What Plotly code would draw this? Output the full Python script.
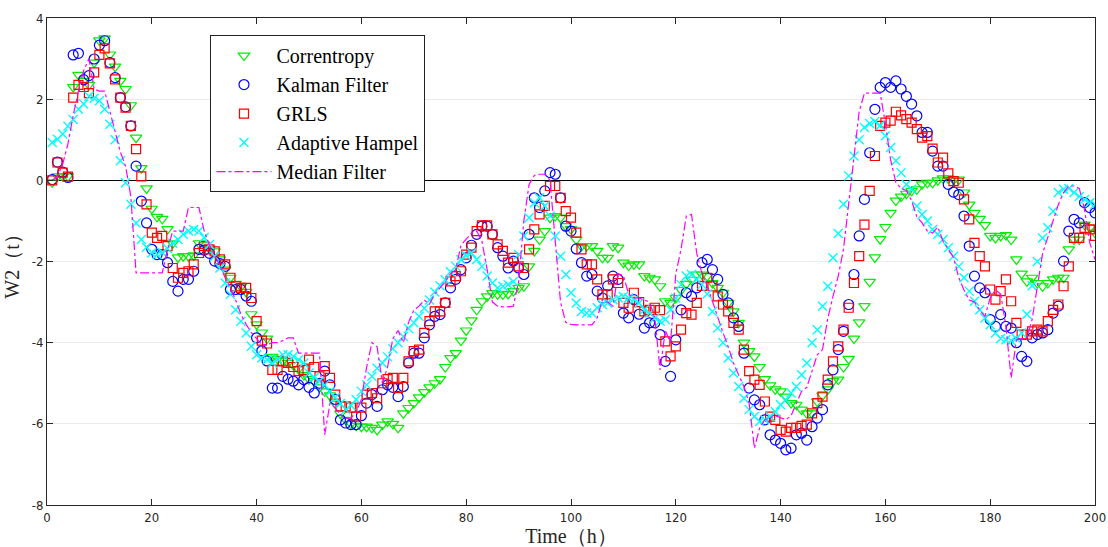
import plotly.graph_objects as go

t = list(range(1, 201))

correntropy = [
    -0.05, 0.1, 0.1, 0.1, 2.3, 2.6, 2.45, 2.35, 2.9, 3.45,
    3.5, 3.1, 2.8, 2.45, 2.25, 1.85, 1.05, 0.3, -0.2, -0.7,
    -0.9, -0.95, -1.2, -1.55, -1.9, -1.87, -1.87, -1.85, -1.55, -1.6,
    -1.68, -1.75, -1.95, -2.2, -2.4, -2.55, -2.62, -2.75, -3.3, -3.55,
    -3.75, -3.9, -4.35, -4.4, -4.45, -4.5, -4.55, -4.65, -4.8, -4.9,
    -4.95, -5.1, -5.2, -5.3, -5.5, -5.75, -5.9, -6.0, -6.05, -6.07,
    -6.07, -6.1, -6.15, -6.02, -5.94, -6.0, -6.1, -5.74, -5.61, -5.49,
    -5.35, -5.22, -5.1, -5.0, -4.9, -4.6, -4.38, -4.26, -3.95, -3.7,
    -3.45, -3.19, -2.98, -2.86, -2.78, -2.81, -2.81, -2.8, -2.73, -2.65,
    -2.61, -2.12, -1.74, -1.46, -1.25, -0.92, -0.88, -0.92, -1.13, -1.2,
    -1.46, -1.62, -1.62, -1.62, -1.74, -1.91, -1.91, -1.62, -1.66, -2.03,
    -2.1, -2.07, -2.07, -2.36, -2.4, -2.44, -2.61, -2.98, -3.02, -2.9,
    -2.7, -2.55, -2.45, -2.32, -2.32, -2.36, -2.53, -2.65, -2.77, -3.02,
    -3.23, -3.51, -4.0, -4.21, -4.34, -4.6, -4.9, -5.05, -5.15, -5.2,
    -5.33, -5.49, -5.53, -5.65, -5.74, -5.74, -5.45, -5.3, -5.15, -4.95,
    -4.91, -4.6, -4.4, -3.9, -3.5, -3.1, -2.5, -1.9, -1.45, -1.15,
    -0.8, -0.5, -0.4, -0.33, -0.26, -0.22, -0.1, -0.06, -0.06, 0.0,
    0.05, 0.05, 0.02, 0.02, -0.3, -0.6, -0.8, -0.95, -1.1, -1.37,
    -1.42, -1.37, -1.35, -1.46, -1.95, -2.3, -2.49, -2.4, -2.53, -2.61,
    -2.53, -2.44, -2.4, -2.4, -1.7, -1.46, -1.46, -1.09, -1.17, -1.29,
]

kalman = [
    0.02, 0.45, 0.2, 0.07, 3.09, 3.13, 2.48, 2.58, 2.99, 3.33,
    3.44, 2.9, 2.53, 2.04, 1.81, 1.34, 0.35, -0.51, -1.05, -1.7,
    -1.83, -1.83, -2.03, -2.49, -2.73, -2.44, -2.44, -2.24, -1.7, -1.72,
    -1.8, -1.99, -2.05, -2.12, -2.69, -2.69, -2.69, -2.85, -2.98, -3.88,
    -4.2, -4.45, -5.12, -5.12, -4.83, -4.9, -4.95, -5.04, -4.91, -5.1,
    -5.24, -5.0, -4.7, -5.04, -5.4, -5.9, -5.98, -6.02, -6.02, -5.8,
    -5.49, -5.28, -5.57, -5.16, -5.04, -5.1, -5.33, -5.08, -4.5, -4.26,
    -4.26, -3.88, -3.56, -3.35, -3.31, -3.02, -2.65, -2.44, -2.2, -1.91,
    -1.6, -1.33, -1.13, -1.13, -1.33, -1.66, -1.87, -2.16, -1.99, -2.16,
    -2.32, -1.33, -0.43, -0.67, -0.26, 0.19, 0.15, -0.43, -1.13, -1.25,
    -1.69, -2.03, -2.36, -2.32, -2.73, -2.9, -2.6, -2.36, -2.44, -3.27,
    -3.39, -2.94, -3.3, -3.64, -3.51, -3.51, -3.8, -4.46, -4.83, -3.93,
    -3.19, -2.77, -2.86, -2.65, -2.03, -1.95, -2.2, -2.44, -2.81, -3.02,
    -3.39, -3.6, -4.26, -5.12, -5.41, -5.53, -5.9, -6.27, -6.4, -6.48,
    -6.64, -6.6, -6.27, -6.23, -6.4, -6.07, -5.86, -5.65, -5.04, -4.67,
    -4.17, -3.72, -3.06, -2.32, -1.37, -0.47, 0.68, 1.75, 2.29, 2.41,
    2.29, 2.45, 2.25, 2.07, 1.88, 1.59, 1.18, 1.18, 0.72, 0.35,
    0.35, -0.1, -0.29, -0.35, -0.88, -1.62, -2.36, -2.65, -2.77, -3.43,
    -3.6, -3.31, -3.6, -3.64, -4.0, -4.34, -4.46, -3.88, -3.8, -3.76,
    -3.68, -3.27, -3.1, -1.99, -1.25, -0.96, -1.05, -0.55, -0.67, -0.8,
]

grls = [
    0.0, 0.44, 0.19, 0.09, 2.04, 2.35, 2.3, 2.15, 2.66, 3.09,
    3.25, 2.88, 2.49, 2.04, 1.79, 1.34, 0.77, 0.1, -0.59, -1.29,
    -1.42, -1.37, -1.62, -2.16, -2.4, -2.28, -2.24, -2.07, -1.79, -1.62,
    -1.7, -1.75, -1.95, -2.07, -2.4, -2.61, -2.65, -2.65, -2.9, -3.47,
    -3.95, -4.02, -4.67, -4.67, -4.46, -4.5, -4.6, -4.7, -4.67, -4.42,
    -4.6, -4.83, -4.58, -4.87, -5.28, -5.57, -5.57, -5.6, -5.82, -5.6,
    -5.28, -5.24, -5.37, -5.0, -4.9, -4.87, -5.12, -4.87, -4.46, -4.21,
    -4.17, -3.76, -3.47, -3.23, -3.23, -3.02, -2.49, -2.36, -2.24, -1.83,
    -1.66, -1.25, -1.11, -1.11, -1.33, -1.58, -1.74, -2.03, -1.91, -2.12,
    -2.16, -1.7, -1.21, -0.84, -0.63, -0.14, -0.14, -0.43, -0.76, -0.92,
    -1.29, -1.7, -2.07, -2.07, -2.44, -2.81, -2.81, -2.44, -2.53, -3.02,
    -3.14, -2.77, -3.0, -3.23, -3.19, -3.14, -3.2, -3.97, -4.34, -4.09,
    -3.68, -3.27, -3.31, -3.02, -2.6, -2.4, -2.61, -2.86, -3.06, -3.23,
    -3.51, -3.68, -4.17, -4.7, -4.91, -5.04, -5.45, -5.82, -5.9, -6.15,
    -6.19, -6.1, -6.1, -6.05, -6.02, -5.74, -5.49, -5.33, -4.91, -4.46,
    -4.09, -3.68, -3.14, -2.53, -1.87, -1.09, -0.26, 0.6, 1.34, 1.42,
    1.47, 1.69, 1.6, 1.51, 1.42, 1.26, 1.05, 1.09, 0.78, 0.44,
    0.56, 0.17, -0.02, -0.06, -0.47, -0.96, -1.54, -1.87, -2.12, -2.69,
    -2.94, -2.73, -2.44, -2.98, -3.51, -3.8, -3.8, -3.72, -3.68, -3.72,
    -3.47, -3.19, -3.06, -2.61, -2.12, -1.42, -1.42, -1.17, -1.21, -1.37,
]

hampel = [
    0.93, 1.01, 1.14, 1.33, 1.5, 1.75, 1.88, 2.07, 2.02, 1.96,
    1.75, 1.38, 1.0, 0.48, -0.06, -0.59, -1.05, -1.46, -1.65, -1.79,
    -1.83, -1.78, -1.68, -1.55, -1.46, -1.33, -1.25, -1.21, -1.25, -1.41,
    -1.58, -1.87, -2.16, -2.53, -2.81, -3.19, -3.47, -3.76, -4.09, -4.3,
    -4.38, -4.42, -4.5, -4.4, -4.3, -4.3, -4.34, -4.42, -4.5, -4.75,
    -4.85, -4.95, -5.04, -5.2, -5.35, -5.5, -5.65, -5.55, -5.4, -5.2,
    -5.04, -4.83, -4.63, -4.5, -4.35, -4.15, -4.0, -3.85, -3.65, -3.51,
    -3.35, -3.15, -2.95, -2.75, -2.6, -2.45, -2.25, -2.12, -1.95, -1.85,
    -1.79, -1.95, -2.12, -2.36, -2.53, -2.65, -2.61, -2.57, -2.49, -1.83,
    -1.37, -0.92, -0.55, -0.43, -0.63, -0.88, -1.37, -1.87, -2.32, -2.77,
    -3.02, -3.23, -3.27, -3.27, -3.14, -3.06, -3.02, -2.94, -2.9, -2.86,
    -2.9, -2.94, -3.02, -3.19, -3.27, -3.39, -3.47, -3.43, -3.19, -2.9,
    -2.57, -2.36, -2.32, -2.44, -2.57, -2.8, -3.23, -3.64, -4.0, -4.38,
    -4.75, -5.08, -5.37, -5.65, -5.82, -5.94, -5.9, -5.82, -5.7, -5.53,
    -5.41, -5.24, -5.08, -4.79, -4.5, -4.0, -3.68, -3.1, -2.61, -1.91,
    -1.31, -0.59, 0.11, 0.6, 1.0, 1.3, 1.4, 1.45, 1.35, 1.1,
    0.81, 0.48, 0.19, -0.1, -0.22, -0.63, -0.84, -1.0, -1.21, -1.33,
    -1.46, -1.66, -1.87, -2.12, -2.4, -2.73, -2.98, -3.19, -3.39, -3.56,
    -3.76, -3.9, -3.93, -3.95, -3.9, -3.76, -3.3, -2.6, -2.0, -1.42,
    -1.17, -0.76, -0.3, -0.22, -0.2, -0.3, -0.4, -0.47, -0.55, -0.59,
]

median = [
    0.0, 0.1, 0.4, 0.9, 1.6, 2.2, 2.7, 3.0, 2.25, 2.2,
    2.2, 1.7, 1.2, 0.7, 0.35, -0.4, -2.28, -2.28, -2.28, -2.28,
    -2.28, -2.28, -1.7, -1.25, -1.25, -1.25, -0.67, -0.67, -0.67, -1.25,
    -1.6, -1.85, -2.1, -2.4, -2.65, -2.95, -3.3, -3.55, -3.75, -3.9,
    -4.05, -4.05, -4.0, -4.0, -3.95, -3.88, -3.88, -4.26, -4.26, -4.26,
    -4.26, -4.26, -6.27, -5.5, -5.6, -5.78, -5.86, -5.86, -5.7, -5.4,
    -4.6, -4.0, -4.1, -5.0, -4.6, -3.9, -3.7, -4.0, -3.5, -3.2,
    -3.1, -2.95, -3.05, -2.8, -2.65, -2.5, -2.3, -2.2, -1.6, -1.45,
    -1.3, -1.25, -1.5, -2.2, -3.0, -3.1, -3.12, -3.12, -3.1, -2.5,
    -1.0, -0.1, 0.12, 0.15, 0.15, 0.0, -1.5, -3.0, -3.5, -3.55,
    -3.56, -3.56, -3.56, -3.56, -3.39, -2.94, -3.0, -3.1, -2.3, -2.35,
    -2.8, -2.9, -2.9, -2.95, -3.0, -3.4, -4.67, -3.7, -4.0, -2.3,
    -1.7, -0.88, -0.84, -1.8, -2.3, -2.6, -3.0, -3.4, -3.75, -4.1,
    -4.5, -4.8, -5.08, -5.5, -6.6, -6.1, -5.9, -5.85, -5.8, -5.85,
    -5.9, -5.8, -5.5, -5.2, -5.1, -4.7, -4.3, -4.17, -3.4, -2.86,
    -2.36, -1.7, -0.6, 0.6, 1.7, 2.15, 2.15, 2.15, 2.15, 1.4,
    0.5, -0.05, -0.2, -0.25, -0.5, -0.9, -1.05, -1.25, -1.3, -1.15,
    -1.5, -1.7, -1.9, -2.4, -2.7, -2.95, -3.0, -3.2, -3.35, -2.9,
    -2.7, -2.8, -3.6, -4.87, -3.93, -3.9, -3.88, -3.43, -2.6, -1.8,
    -1.4, -1.0, -0.6, -0.3, -0.14, -0.14, -0.2, -0.72, -1.54, -1.95,
]

x_ticks = [0, 20, 40, 60, 80, 100, 120, 140, 160, 180, 200]
y_ticks = [4, 2, 0, -2, -4, -6, -8]

serif = "Liberation Serif"
narrow = "Liberation Sans Narrow, DejaVu Sans Condensed, sans-serif"

fig = go.Figure()
fig.add_trace(go.Scatter(
    x=t, y=correntropy, mode="markers", name="Correntropy",
    marker=dict(symbol="triangle-down-open", size=10, color="#00ee00",
                line=dict(width=1.2, color="#00ee00"))))
fig.add_trace(go.Scatter(
    x=t, y=kalman, mode="markers", name="Kalman Filter",
    marker=dict(symbol="circle-open", size=10, color="#0000ff",
                line=dict(width=1.2, color="#0000ff"))))
fig.add_trace(go.Scatter(
    x=t, y=grls, mode="markers", name="GRLS",
    marker=dict(symbol="square-open", size=9, color="#ff0000",
                line=dict(width=1.2, color="#ff0000"))))
fig.add_trace(go.Scatter(
    x=t, y=hampel, mode="markers", name="Adaptive Hampel",
    marker=dict(symbol="x-thin-open", size=9, color="#00ffff",
                line=dict(width=1.4, color="#00ffff"))))
fig.add_trace(go.Scatter(
    x=t, y=median, mode="lines", name="Median Filter",
    line=dict(color="#ff00ff", width=1.2, dash="dashdot")))

fig.update_layout(
    width=1108, height=547,
    paper_bgcolor="white", plot_bgcolor="white",
    margin=dict(l=47, r=13, t=18, b=42),
    showlegend=True,
    legend=dict(
        x=0.156, y=0.965, xanchor="left", yanchor="top",
        bgcolor="white", bordercolor="#222222", borderwidth=1,
        font=dict(family=serif, size=20, color="black"),
        itemwidth=55, tracegroupgap=0,
    ),
    xaxis=dict(
        range=[0, 200], tickvals=x_ticks, ticktext=[str(v) for v in x_ticks],
        showgrid=False, zeroline=False, automargin=False,
        showline=True, linecolor="#262626", linewidth=1, mirror="ticks",
        ticks="inside", ticklen=6, tickcolor="#262626",
        tickfont=dict(family=narrow, size=13, color="#262626"),
        title=dict(text="Time（h）", font=dict(family=serif, size=20, color="#262626"), standoff=4),
    ),
    yaxis=dict(
        range=[-8, 4], tickvals=y_ticks, ticktext=[str(v) for v in y_ticks],
        showgrid=True, gridcolor="#ebebeb", gridwidth=1, automargin=False,
        zeroline=True, zerolinecolor="black", zerolinewidth=1.3,
        showline=True, linecolor="#262626", linewidth=1, mirror="ticks",
        ticks="inside", ticklen=6, tickcolor="#262626",
        tickfont=dict(family=narrow, size=13, color="#262626"),
        title=dict(text="W2（t）", font=dict(family=serif, size=20, color="#262626"), standoff=6),
    ),
)

fig.write_html(
    "out.html",
    config={"displayModeBar": False},
    post_script="document.body.style.margin='0';document.body.style.overflow='hidden';",
)
